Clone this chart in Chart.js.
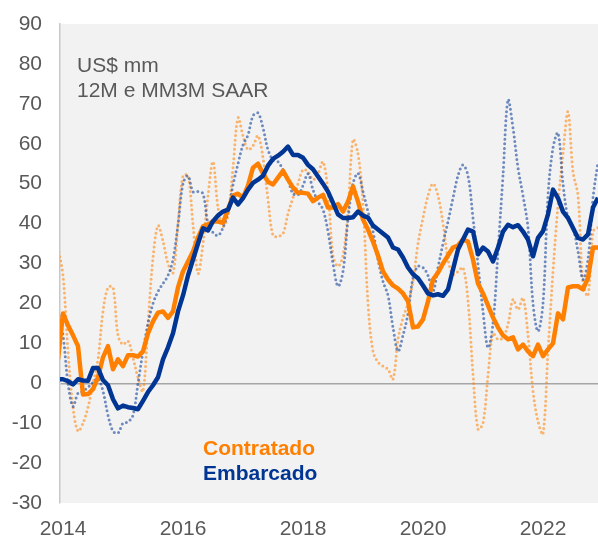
<!DOCTYPE html>
<html>
<head>
<meta charset="utf-8">
<script src="https://cdn.jsdelivr.net/npm/chart.js@4.4.1/dist/chart.umd.min.js"></script>
<style>
  html, body { margin: 0; padding: 0; background: #fff; }
  #wrap { width: 598px; height: 539px; }
</style>
</head>
<body>
<div id="wrap"><canvas id="chart" width="598" height="539"></canvas></div>
<script>
// Monthly series, Dec 2013 .. Dec 2022 (the Dec 2013 point falls left of the axis and is clipped)
const firstMonth = 2013 + 11 / 12;

// 12M (solid)
const contratado12m = [
  6, 17.5, 14.5, 12, 9.3, -2.8, -2.7, -1.5, 1.5, 6.5, 9.3, 3.5, 6,
  4.3, 7, 7, 6.7, 8, 12.5, 15.5, 17.7, 18, 16.4, 18, 24,
  28, 30.5, 33, 36.5, 39.3, 39.8, 40.5, 40.5, 40.2, 43.5, 47, 47.5,
  46.5, 49.5, 54, 55, 52.5, 50.5, 49.8, 51.5, 53.2, 51, 49, 47.7,
  47.7, 47.5, 45.6, 46.5, 47.2, 44, 44, 44.9, 43, 45.5, 49.3, 45.5,
  41, 38.5, 35.5, 32, 28, 26, 24.5, 23.7, 22.5, 20.5, 14, 14.2,
  16, 20.5, 26, 27.7, 30, 32, 34, 34.5, 36, 35.5, 31, 25,
  22.5, 19.5, 16.5, 14, 12, 11, 11.5, 8.5, 9.7, 8, 6.8, 9.7,
  6.8, 8.5, 10, 17.5, 16, 24, 24.3, 24.3, 23.5, 26.4, 34, 34
];
const embarcado12m = [
  1, 1, 0.5, -0.3, 1, 0.7, 0.6, 3.8, 3.8, 0.8, -0.5, -4, -6.3,
  -5.6, -6, -6.2, -6.5, -4.4, -2.2, -0.5, 1.5, 6, 9, 12.5, 18,
  22, 27, 31, 35, 38.8, 38.3, 40.6, 42, 43, 43.5, 46.5, 44.8,
  46.4, 48.5, 50.2, 51, 52, 54.5, 56.2, 57, 58, 59.3, 57.2, 57.2,
  56.5, 54.7, 53.6, 51.8, 50, 48, 45.2, 42.3, 41.4, 41.4, 41.6, 43,
  42, 41.5, 39.5, 38.5, 37.5, 36.5, 34, 33.5, 31.5, 29, 27.3, 26.3,
  24.5, 22.5, 22, 22.3, 21.9, 23.5, 28.5, 33.5, 36, 38.5, 38, 32.3,
  34, 33, 30.5, 34, 38, 39.7, 39.1, 39.6, 38, 36, 31.8, 36.4,
  38.1, 42.3, 48.5, 46.4, 43, 41.4, 38.9, 36.4, 36, 37.3, 44, 46.5
];

// MM3M SAAR (dotted)
const contratado3m = [
  34, 27, 8, -6, -12, -10, -6, 0, 6, 18, 24, 24, 12,
  9.7, 10.6, 6.4, 1.4, -2, 15, 31.4, 39.5, 35.6, 30, 27.6, 40,
  52, 52, 39.7, 27.5, 35, 47, 55.5, 44, 39.3, 42, 54, 66.5,
  62, 58.5, 59.5, 62, 56.5, 46, 37, 36.8, 37.5, 42.5, 46.5, 50,
  53.5, 53, 51, 52.5, 55.5, 48, 32, 29.3, 32, 43, 61, 57.5,
  45, 20, 8, 5.3, 4.3, 3.5, 1, 11, 16.4, 20, 25.6, 35,
  41.4, 47, 50, 47, 40, 31, 27.3, 28, 29, 20.6, 2.3, -11.5,
  -10, 2, 12.5, 11, 11.4, 14.8, 21, 18.5, 21.4, 12, -2, -9.5,
  -12.7, 8, 28, 44.7, 57.5, 68, 53, 47, 25, 22, 38, 39
];
const embarcado3m = [
  18, 12, 0, -5.8, -2.5, -2, -1, 0.2, 1.2, -2, -8, -12, -12.5,
  -10, -9.7, -8, 0, 8, 15, 20, 23, 25, 27, 31, 39.7,
  50, 52, 48, 48, 47.5, 40, 37.8, 37, 39, 43, 49.7, 55,
  59.7, 62.2, 67, 67.7, 64, 58.5, 56, 55.5, 53.5, 51, 47.5, 47.2,
  49.5, 52.5, 48.5, 45.5, 43.5, 38, 30, 24.3, 28, 41, 50, 52.6,
  48, 43, 38, 31, 25.5, 22, 14, 8, 12, 17.5, 26.4, 29.3,
  29, 27, 23, 29, 35, 40.5, 46.4, 52, 54.7, 52, 41.4, 29.8,
  18, 8.9, 15, 33, 52, 71, 64, 54, 47, 39, 20, 13,
  20, 47, 59, 62.7, 50, 41.4, 39, 33, 26, 31, 46.4, 55.5
];

const xTicks = [2014, 2016, 2018, 2020, 2022];
const yMin = -30, yMax = 90, yStep = 10;

const months = contratado12m.map((_, i) => firstMonth + i / 12);
const toPoints = arr => arr.map((v, i) => ({ x: months[i], y: v }));

const ORANGE = '#ff7f00';
const BLUE = '#003594';
const FONT = '"Liberation Sans", Arial, sans-serif';
const GREY_TEXT = '#595959';

// grey plot area
const plotBg = {
  id: 'plotBg',
  beforeDraw(chart) {
    const { ctx, chartArea: a } = chart;
    ctx.save();
    ctx.fillStyle = '#f2f2f2';
    ctx.fillRect(a.left, a.top, a.right - a.left, a.bottom - a.top);
    ctx.restore();
  }
};

// unit note and the in-plot legend
const notes = {
  id: 'notes',
  afterDraw(chart) {
    const ctx = chart.ctx;
    ctx.save();
    ctx.textBaseline = 'alphabetic';
    ctx.textAlign = 'left';
    ctx.fillStyle = GREY_TEXT;
    ctx.font = '21px ' + FONT;
    ctx.fillText('US$ mm', 77, 72);
    ctx.fillText('12M e MM3M SAAR', 77, 97);
    ctx.font = 'bold 21px ' + FONT;
    ctx.fillStyle = ORANGE;
    ctx.fillText('Contratado', 203, 455);
    ctx.fillStyle = BLUE;
    ctx.fillText('Embarcado', 203, 480);
    ctx.restore();
  }
};

const solid = (data, color) => ({
  data: toPoints(data),
  borderColor: color,
  borderWidth: 4.5,
  borderJoinStyle: 'round',
  pointRadius: 0,
  tension: 0,
  clip: 0
});
const dotted = (data, color) => ({
  data: toPoints(data),
  borderColor: color,
  borderWidth: 3,
  borderDash: [0, 4.6],
  borderCapStyle: 'round',
  pointRadius: 0,
  tension: 0.35,
  clip: 0
});

new Chart(document.getElementById('chart'), {
  type: 'line',
  data: {
    datasets: [
      solid(embarcado12m, BLUE),
      solid(contratado12m, ORANGE),
      dotted(embarcado3m, 'rgba(0, 53, 148, 0.55)'),
      dotted(contratado3m, 'rgba(255, 127, 0, 0.55)')
    ]
  },
  options: {
    responsive: false,
    animation: false,
    devicePixelRatio: 1,
    layout: { padding: { top: 24, right: 0, left: 0, bottom: 0 } },
    plugins: { legend: { display: false }, tooltip: { enabled: false } },
    scales: {
      x: {
        type: 'linear',
        min: 2014 - 3 / 60,
        max: 2014 + 535 / 60,
        afterBuildTicks: s => { s.ticks = xTicks.map(v => ({ value: v })); },
        afterFit: s => { s.height = 36; s.paddingLeft = 0; s.paddingRight = 0; },
        grid: { display: false, drawTicks: false },
        border: { display: false },
        ticks: {
          autoSkip: false,
          maxRotation: 0,
          padding: 14,
          color: GREY_TEXT,
          font: { family: FONT, size: 21 },
          callback: v => String(v)
        }
      },
      y: {
        min: yMin,
        max: yMax,
        // fixed gutter; drop the label half-height padding Chart.js adds
        afterFit: s => { s.width = 60; s.paddingTop = 0; s.paddingBottom = 0; },
        grid: {
          drawTicks: false,
          lineWidth: 1.5,
          color: c => (c.tick && c.tick.value === 0 ? '#a6a6a6' : 'rgba(0,0,0,0)')
        },
        border: { display: true, color: '#c8c8c8', width: 1.5 },
        ticks: {
          stepSize: yStep,
          padding: 18,
          color: GREY_TEXT,
          font: { family: FONT, size: 21 }
        }
      }
    }
  },
  plugins: [plotBg, notes]
});
</script>
</body>
</html>
